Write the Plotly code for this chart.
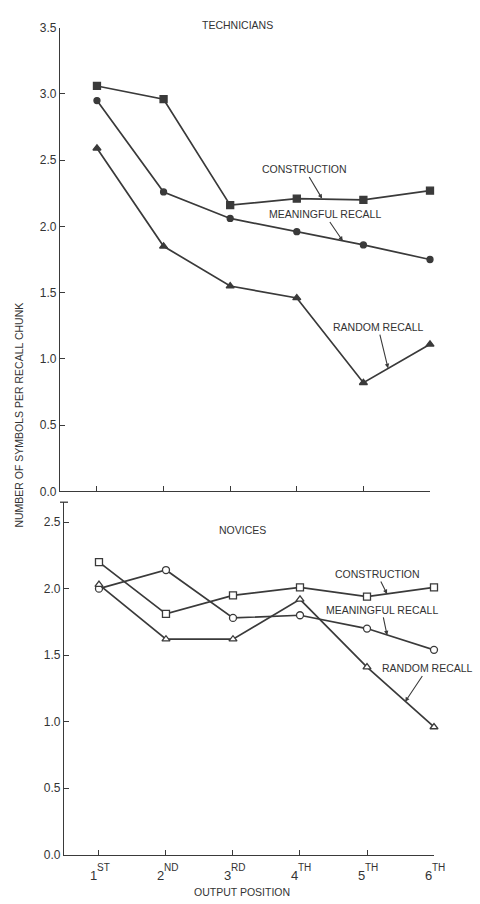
import plotly.graph_objects as go

positions = [1, 2, 3, 4, 5, 6]
pos_digits = ["1", "2", "3", "4", "5", "6"]
pos_suffix = ["ST", "ND", "RD", "TH", "TH", "TH"]

tech_construction = [3.06, 2.96, 2.16, 2.21, 2.20, 2.27]
tech_meaningful = [2.95, 2.26, 2.06, 1.96, 1.86, 1.75]
tech_random = [2.59, 1.85, 1.55, 1.46, 0.82, 1.11]

nov_construction = [2.20, 1.81, 1.95, 2.01, 1.94, 2.01]
nov_meaningful = [2.00, 2.14, 1.78, 1.80, 1.70, 1.54]
nov_random = [2.03, 1.62, 1.62, 1.92, 1.41, 0.96]

y_ticks = [0, 0.5, 1.0, 1.5, 2.0, 2.5, 3.0, 3.5]

LINE = "#3a3a3a"
TXT = "#333333"
FONT = "Liberation Sans, Arial, sans-serif"

fig = go.Figure()

def add(x, y, sym, xa, ya, size, fill):
    fig.add_trace(go.Scatter(
        x=x, y=y, mode="lines+markers", xaxis=xa, yaxis=ya, cliponaxis=False,
        line=dict(color=LINE, width=1.7),
        marker=dict(symbol=sym, size=size, color=fill,
                    line=dict(color=LINE, width=1.3)),
        showlegend=False, hoverinfo="x+y"))

add(positions, tech_construction, "square", "x", "y", 7, LINE)
add(positions, tech_meaningful, "circle", "x", "y", 6, LINE)
add(positions, tech_random, "triangle-up", "x", "y", 7, LINE)

add(positions, nov_construction, "square", "x2", "y2", 7, "white")
add(positions, nov_meaningful, "circle", "x2", "y2", 7, "white")
add(positions, nov_random, "triangle-up", "x2", "y2", 7, "white")

W, H = 480, 904
def px_x(a, b):
    return [a / W, b / W]
def py(top, bottom):
    return [1 - bottom / H, 1 - top / H]

axis_common = dict(showline=True, linecolor=LINE, linewidth=1.3, ticks="inside",
                   ticklen=5, tickcolor=LINE, tickwidth=1.3, showgrid=False,
                   zeroline=False, tickfont=dict(family=FONT, size=12, color=TXT))

fig.update_layout(
    width=W, height=H, margin=dict(l=0, r=0, t=0, b=0),
    paper_bgcolor="white", plot_bgcolor="white",
    xaxis=dict(domain=px_x(60, 430), range=[0.445, 6.0], anchor="y",
               tickvals=positions, showticklabels=False, **axis_common),
    yaxis=dict(domain=py(21, 492), range=[0, 3.5], anchor="x",
               tickvals=y_ticks, tickformat=".1f", **axis_common),
    xaxis2=dict(domain=px_x(64, 434), range=[0.478, 6.0], anchor="y2",
                tickvals=positions, showticklabels=False, **axis_common),
    yaxis2=dict(domain=py(503, 861), range=[0, 2.65], anchor="x2",
                tickvals=y_ticks[:6], tickformat=".1f", **axis_common),
)

# small cap at the top of the lower y axis (axis break mark)
fig.add_shape(type="line", xref="paper", yref="paper",
              x0=60 / W, x1=68 / W, y0=1 - 503 / H, y1=1 - 503 / H,
              line=dict(color=LINE, width=1.3))

anns = []
lab_font = dict(family=FONT, size=10.5, color=TXT)

def paper_text(text, x, y, **kw):
    d = dict(text=text, x=x / W, y=1 - y / H, xref="paper", yref="paper",
             xanchor="center", yanchor="middle", showarrow=False, font=lab_font)
    d.update(kw)
    return d

# panel titles and axis titles
anns.append(paper_text("TECHNICIANS", 237, 18))
anns.append(paper_text("NOVICES", 242, 531))
anns.append(paper_text("OUTPUT POSITION", 242, 899))
anns.append(paper_text("NUMBER OF SYMBOLS PER RECALL CHUNK", 19, 415, textangle=-90))

# x tick labels of the lower panel: ordinal digit + raised suffix
for p, d, s in zip(positions, pos_digits, pos_suffix):
    anns.append(dict(text=d, x=p, y=1 - 882 / H, xref="x2", yref="paper",
                     xanchor="right", yanchor="middle", xshift=-1, showarrow=False,
                     borderpad=0, font=dict(family=FONT, size=13, color=TXT)))
    anns.append(dict(text=s, x=p, y=1 - 874 / H, xref="x2", yref="paper",
                     xanchor="left", yanchor="middle", xshift=-3, showarrow=False,
                     borderpad=0, font=dict(family=FONT, size=10, color=TXT)))

# series labels with arrows: (text, label x, label y, arrow tip x, tip y, axes)
labels = [
    ("CONSTRUCTION", 4.12, 2.43, 4.38, 2.21, "x", "y"),
    ("MEANINGFUL RECALL", 4.42, 2.09, 4.69, 1.89, "x", "y"),
    ("RANDOM RECALL", 5.22, 1.24, 5.37, 0.93, "x", "y"),
    ("CONSTRUCTION", 5.15, 2.11, 5.30, 1.96, "x2", "y2"),
    ("MEANINGFUL RECALL", 5.22, 1.84, 5.30, 1.65, "x2", "y2"),
    ("RANDOM RECALL", 5.90, 1.40, 5.57, 1.15, "x2", "y2"),
]
for t, lx, ly, tx, ty, xr, yr in labels:
    anns.append(dict(text=t, x=tx, y=ty, xref=xr, yref=yr, ax=lx, ay=ly,
                     axref=xr, ayref=yr, showarrow=True, arrowhead=2,
                     arrowsize=0.8, arrowwidth=1.1, arrowcolor=LINE,
                     font=lab_font))

fig.update_layout(annotations=anns)

# remove the browser's default page margin so the 480x904 figure fills the window exactly
fig.write_html("out.html", config={"displayModeBar": False},
               post_script="document.body.style.margin='0';document.body.style.overflow='hidden';")
